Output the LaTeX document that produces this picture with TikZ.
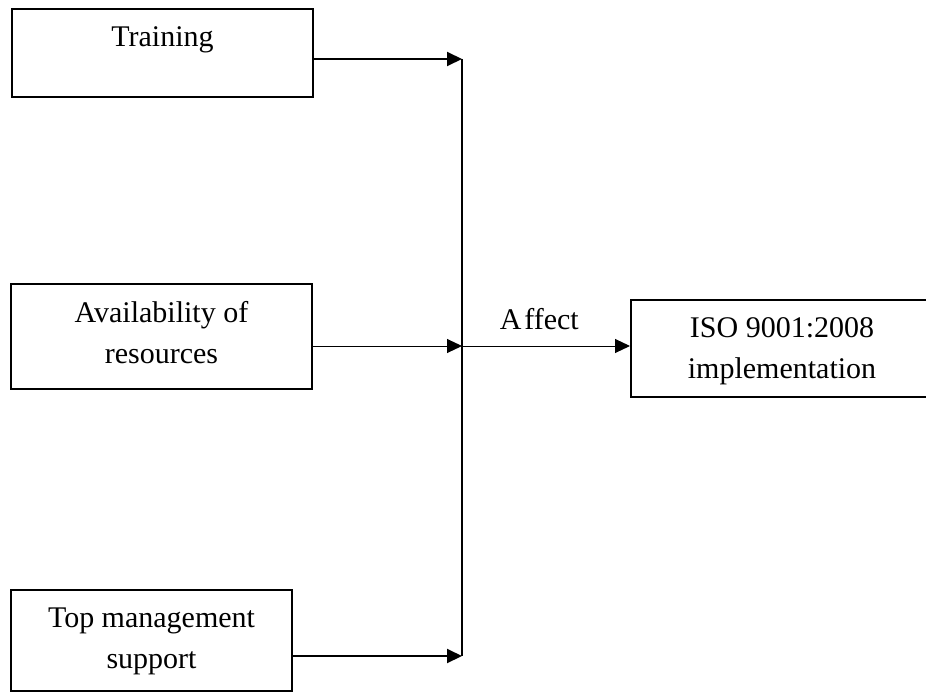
\documentclass[tikz,border=0pt]{standalone}
\usepackage{fontspec}
\setmainfont{Liberation Serif}
\usetikzlibrary{arrows.meta}
\tikzstyle{box} = [rectangle, draw=black, line width=2pt, inner sep=0pt]
\tikzstyle{boxtext} = [anchor=north, inner sep=0pt, align=center, font=\fontsize{30}{41}\selectfont]
\tikzstyle{arrow} = [line width=2pt,-{Triangle[length=15pt,width=14pt]}]
\tikzstyle{thinarrow} = [line width=1pt,-{Triangle[length=15pt,width=14pt]}]

\begin{document}
\begin{tikzpicture}[x=1pt, y=-1pt]
    \clip (0,0) rectangle (926,693);
    \node (1) [box, minimum width=301pt, minimum height=88pt, label={[boxtext, yshift=-18.5pt]north:Training}] at (162.5,53) {};
    \node (2) [box, minimum width=301pt, minimum height=105pt, label={[boxtext, yshift=-18.5pt]north:Availability of\\resources}] at (161.5,336.5) {};
    \node (3) [box, minimum width=281pt, minimum height=101pt, label={[boxtext, yshift=-18.5pt]north:Top management\\support}] at (151.5,640.5) {};
    \node (4) [box, minimum width=302pt, minimum height=97pt, label={[boxtext, yshift=-18.5pt]north:ISO 9001:2008\\implementation}] at (782,348.5) {};

    \coordinate (a) at (462,59);
    \coordinate (b) at (462,346);
    \coordinate (c) at (462,656);

    \draw[arrow] (1.east |- a) -- (a);
    \draw[thinarrow] (2.east |- b) -- (b);
    \draw[arrow] (3.east |- c) -- (c);
    \draw[line width=2pt] (a) -- (c);
    \draw[thinarrow] (b) -- (4.west |- b) node (5) [pos=0.46, above=16pt, inner sep=0pt, font=\fontsize{30}{41}\selectfont] {A\kern3pt ffect};
  \end{tikzpicture}
\end{document}
